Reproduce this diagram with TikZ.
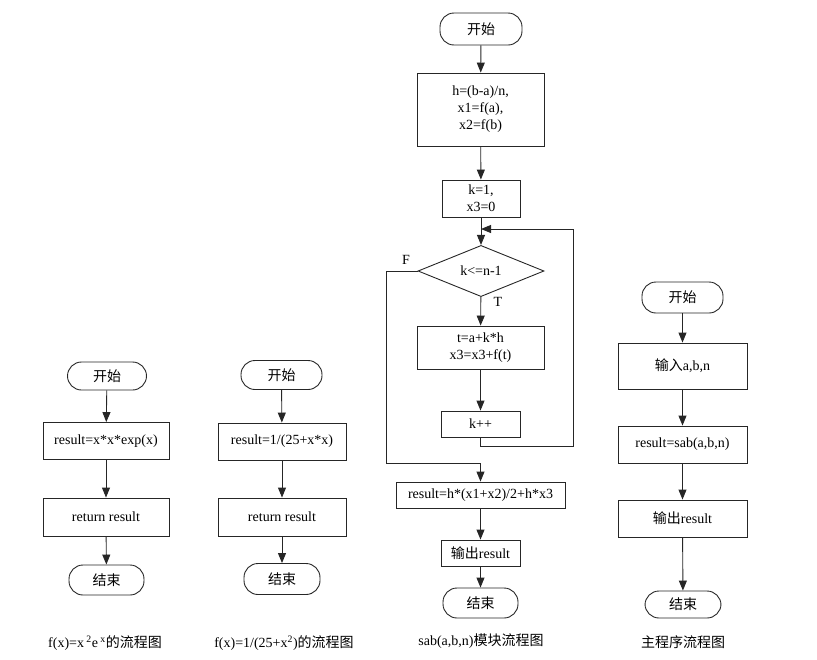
\documentclass[tikz,border=0pt]{standalone}
\usepackage{fontspec}
\setmainfont{Liberation Serif}
\newfontfamily\cjk{Noto Sans CJK SC}
\usetikzlibrary{arrows.meta,shapes.geometric}
\begin{document}
\begin{tikzpicture}[x=1pt,y=-1pt,
  every node/.style={font=\fontsize{14}{17}\selectfont},
  term/.style={draw, rectangle, rounded corners=14pt, inner sep=0pt},
  proc/.style={draw, rectangle, inner sep=0pt, align=center},
  dec/.style={draw, diamond, inner sep=0pt},
  arr/.style={-{Triangle[length=10pt,width=8pt]}},
  lbl/.style={inner sep=0pt},
  line width=0.9pt, draw=black!85]
\useasboundingbox (0,0) rectangle (817,659);

% ---- column 1 ----
\node[term, minimum width=79pt, minimum height=28pt] (a1) at (107,376) {\cjk 开始};
\node[proc, minimum width=126pt, minimum height=37pt] (a2) at (106,441) {result=x*x*exp(x)};
\node[proc, minimum width=126pt, minimum height=38pt] (a3) at (106,517) {return result};
\node[term, minimum width=75pt, minimum height=30pt] (a4) at (106.5,580) {\cjk 结束};
\node[lbl] (ac) at (105,643) {f(x)=x\,\textsuperscript{2}e\,\textsuperscript{x}{\cjk 的流程图}};
\draw[arr] (a1) -- (a2);
\draw[arr] (a2) -- (a3);
\draw[arr] (a3) -- (a4);

% ---- column 2 ----
\node[term, minimum width=81pt, minimum height=29pt] (b1) at (281.5,375) {\cjk 开始};
\node[proc, minimum width=128pt, minimum height=37pt] (b2) at (282,441.5) {result=1/(25+x*x)};
\node[proc, minimum width=128pt, minimum height=38pt] (b3) at (282,517) {return result};
\node[term, minimum width=76pt, minimum height=31pt] (b4) at (282,579) {\cjk 结束};
\node[lbl] (bc) at (284,643) {f(x)=1/(25+x\textsuperscript{2}){\cjk 的流程图}};
\draw[arr] (b1) -- (b2);
\draw[arr] (b2) -- (b3);
\draw[arr] (b3) -- (b4);

% ---- column 3 ----
\node[term, minimum width=82pt, minimum height=32pt] (c1) at (481,29) {\cjk 开始};
\node[proc, minimum width=127pt, minimum height=73pt] (c2) at (480.5,109.5) {h=(b-a)/n,\\x1=f(a),\\x2=f(b)};
\node[proc, minimum width=78pt, minimum height=37pt] (c3) at (481,198.5) {k=1,\\x3=0};
\node[dec, minimum width=126pt, minimum height=43pt] (c4) at (481,271) {k<=n-1};
\node[proc, minimum width=127pt, minimum height=43pt] (c5) at (480.5,347.5) {t=a+k*h\\x3=x3+f(t)};
\node[proc, minimum width=79pt, minimum height=26pt] (c6) at (480.5,424) {k++};
\node[proc, minimum width=169pt, minimum height=26pt] (c7) at (480.5,495) {result=h*(x1+x2)/2+h*x3};
\node[proc, minimum width=79pt, minimum height=26pt] (c8) at (480.5,553) {{\cjk 输出}result};
\node[term, minimum width=75pt, minimum height=30pt] (c9) at (480.5,603) {\cjk 结束};
\node[lbl] (cc) at (481,641) {sab(a,b,n){\cjk 模块流程图}};
\node[lbl] (fl) at (406,260) {F};
\node[lbl] (tl) at (498,302) {T};
\coordinate (lr) at (573,446);
\coordinate (lt) at (573,229);
\coordinate (lm) at (481,229);
\coordinate (fc) at (386,463);
\draw[arr] (c1) -- (c2);
\draw[arr] (c2) -- (c3);
\draw[arr] (c3) -- (c4);
\draw[arr] (c4) -- (c5);
\draw[arr] (c5) -- (c6);
\draw[arr] (c6.south) |- (lr) -- (lt) -- (lm);
\draw[arr] (c4.west) -| (fc) -| (c7.north);
\draw[arr] (c7) -- (c8);
\draw[arr] (c8) -- (c9);

% ---- column 4 ----
\node[term, minimum width=81pt, minimum height=31pt] (d1) at (682.5,297.5) {\cjk 开始};
\node[proc, minimum width=129pt, minimum height=46pt] (d2) at (682.5,366) {{\cjk 输入}a,b,n};
\node[proc, minimum width=129pt, minimum height=37pt] (d3) at (682.5,444.5) {result=sab(a,b,n)};
\node[proc, minimum width=129pt, minimum height=37pt] (d4) at (682.5,518.5) {{\cjk 输出}result};
\node[term, minimum width=76pt, minimum height=27pt] (d5) at (683,604.5) {\cjk 结束};
\node[lbl] (dc) at (683,642) {\cjk 主程序流程图};
\draw[arr] (d1) -- (d2);
\draw[arr] (d2) -- (d3);
\draw[arr] (d3) -- (d4);
\draw[arr] (d4) -- (d5);
\end{tikzpicture}
\end{document}
